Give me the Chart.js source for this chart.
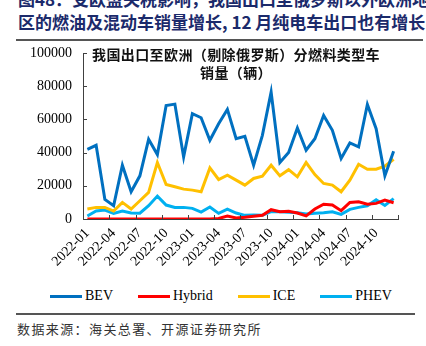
<!DOCTYPE html>
<html>
<head>
<meta charset="utf-8">
<script src="https://cdn.jsdelivr.net/npm/chart.js@4"></script>
<style>
  html, body { margin: 0; padding: 0; background: #fff; }
  #wrap { position: relative; width: 426px; height: 346px; overflow: hidden; }
  #chart { position: absolute; left: 0; top: 0; }
  .head { position: absolute; left: 18px; top: -13px; width: 410px; font-family: "Noto Sans CJK SC"; font-weight: 700;
          font-size: 17px; line-height: 23px; color: #1b2a6b; white-space: nowrap; }
  .rule { position: absolute; left: 16px; width: 407px; height: 2px; background: #555; }
  .ctitle { position: absolute; left: 86px; width: 300px; top: 45px; text-align: center; font-family: "Noto Sans CJK SC";
            font-weight: 600; font-size: 14px; line-height: 18px; letter-spacing: 0.4px; color: #111; }
  #legend { position: absolute; left: 50px; top: 288px; display: flex; font-family: "Liberation Serif"; font-size: 14px; color: #000; }
  #legend .item { display: flex; align-items: center; margin-right: 25px; }
  #legend .line { width: 32px; height: 3px; margin-right: 3px; }
  .src { position: absolute; left: 17px; top: 319px; font-family: "Noto Sans CJK SC"; font-size: 13px; letter-spacing: 1.4px; color: #333; }
</style>
</head>
<body>
<div id="wrap">
  <div class="head">图48：受欧盟关税影响，我国出口至俄罗斯以外欧洲地<br>区的燃油及混动车销量增长, 12 月纯电车出口也有增长</div>
  <div class="rule" style="top:39px"></div>
  <canvas id="chart" width="426" height="280"></canvas>
  <div class="ctitle">我国出口至欧洲（剔除俄罗斯）分燃料类型车<br>销量（辆）</div>
  <div id="legend"></div>
  <div class="rule" style="top:313px; height:1.5px; width:399px"></div>
  <div class="src">数据来源：海关总署、开源证券研究所</div>
</div>
<script>
// Months 2022-01 .. 2024-12
const months = [
    '2022-01', '2022-02', '2022-03', '2022-04', '2022-05', '2022-06', '2022-07', '2022-08', '2022-09', '2022-10', '2022-11', '2022-12',
    '2023-01', '2023-02', '2023-03', '2023-04', '2023-05', '2023-06', '2023-07', '2023-08', '2023-09', '2023-10', '2023-11', '2023-12',
    '2024-01', '2024-02', '2024-03', '2024-04', '2024-05', '2024-06', '2024-07', '2024-08', '2024-09', '2024-10', '2024-11', '2024-12'
];

const bev = [42000, 44400, 11800, 8000, 32400, 16400, 26000, 48000, 38800, 68400, 69200, 37400,
    63400, 61000, 47400, 57400, 66000, 48400, 49800, 32400, 50400, 76400, 34000, 40000,
    54800, 41400, 48400, 62400, 53400, 36400, 45800, 43400, 69000, 54400, 26000, 40800];
const hybrid = [0, 0, 0, 0, 0, 0, 0, 0, 0, 0, 0, 0,
    0, 0, 0, 300, 1800, 600, 1000, 1600, 2200, 5600, 4400, 4600,
    3600, 1900, 6000, 8900, 8400, 5000, 10000, 10400, 8900, 9400, 11400, 9800];
const ice = [6000, 7000, 7000, 4800, 10000, 6000, 11000, 16000, 34000, 20800, 19400, 18000,
    17400, 16400, 30800, 23800, 26400, 23400, 20400, 24400, 25800, 32400, 26000, 29700,
    25400, 34000, 26800, 21400, 20400, 16400, 23400, 33000, 30000, 30000, 31800, 36000];
const phev = [1800, 4800, 5400, 3400, 4800, 3600, 3500, 8000, 13800, 8400, 7000, 7000,
    6400, 4200, 7200, 3400, 6000, 3600, 2200, 2400, 2200, 4400, 4400, 4000,
    3800, 3000, 3400, 3800, 4400, 2800, 5800, 7000, 8000, 11600, 8200, 12300];

const seriesNames = ['BEV', 'Hybrid', 'ICE', 'PHEV'];
const seriesColors = ['#0070C0', '#FF0000', '#FFC000', '#00B0F0'];
const yTicks = [0, 20000, 40000, 60000, 80000, 100000];

const serif = { family: 'Liberation Serif', size: 14 };

// small inward tick marks, as in the source chart
const innerTicks = {
    id: 'innerTicks',
    afterDraw(chart) {
        const { ctx, scales: { x, y } } = chart;
        ctx.save();
        ctx.strokeStyle = '#404040';
        ctx.lineWidth = 1;
        ctx.beginPath();
        yTicks.forEach(v => {
            const py = Math.round(y.getPixelForValue(v)) + 0.5;
            ctx.moveTo(y.right, py);
            ctx.lineTo(y.right + 4, py);
        });
        const half = (x.getPixelForValue(1) - x.getPixelForValue(0)) / 2;
        for (let i = 0; i <= months.length; i += 3) {
            const px = Math.round(x.getPixelForValue(i) - half) + 0.5;
            ctx.moveTo(px, x.top);
            ctx.lineTo(px, x.top - 4);
        }
        ctx.stroke();
        ctx.restore();
    }
};

const values = [bev, hybrid, ice, phev];

new Chart(document.getElementById('chart').getContext('2d'), {
    type: 'line',
    data: {
        labels: months,
        datasets: values.map((d, i) => ({
            label: seriesNames[i],
            data: d,
            borderColor: seriesColors[i],
            backgroundColor: seriesColors[i],
            borderWidth: 3,
            pointRadius: 0,
            tension: 0,
            fill: false
        }))
    },
    options: {
        responsive: false,
        animation: false,
        layout: { padding: { top: 53, right: 28, left: 0, bottom: 0 } },
        plugins: {
            legend: { display: false },
            tooltip: { enabled: false }
        },
        scales: {
            x: {
                offset: true,
                grid: { display: true, drawOnChartArea: false, drawTicks: false },
                border: { color: '#404040', width: 1 },
                ticks: {
                    autoSkip: false,
                    minRotation: 45,
                    maxRotation: 45,
                    padding: 6,
                    color: '#000',
                    font: serif,
                    callback(value, index) {
                        return index % 3 === 0 ? this.getLabelForValue(value) : '';
                    }
                },
                afterFit(s) { s.height = 61; }
            },
            y: {
                min: 0,
                max: 100000,
                grid: { display: true, drawOnChartArea: false, drawTicks: false },
                border: { color: '#404040', width: 1 },
                ticks: {
                    stepSize: 20000,
                    padding: 11,
                    color: '#000',
                    font: serif,
                    callback: v => String(v)
                },
                afterFit(s) { s.width = 83; }
            }
        }
    },
    plugins: [innerTicks]
});

// HTML legend built from the series arrays
document.getElementById('legend').innerHTML = seriesNames.map((n, i) =>
    `<div class="item"><span class="line" style="background:${seriesColors[i]}"></span>${n}</div>`
).join('');
</script>
</body>
</html>
